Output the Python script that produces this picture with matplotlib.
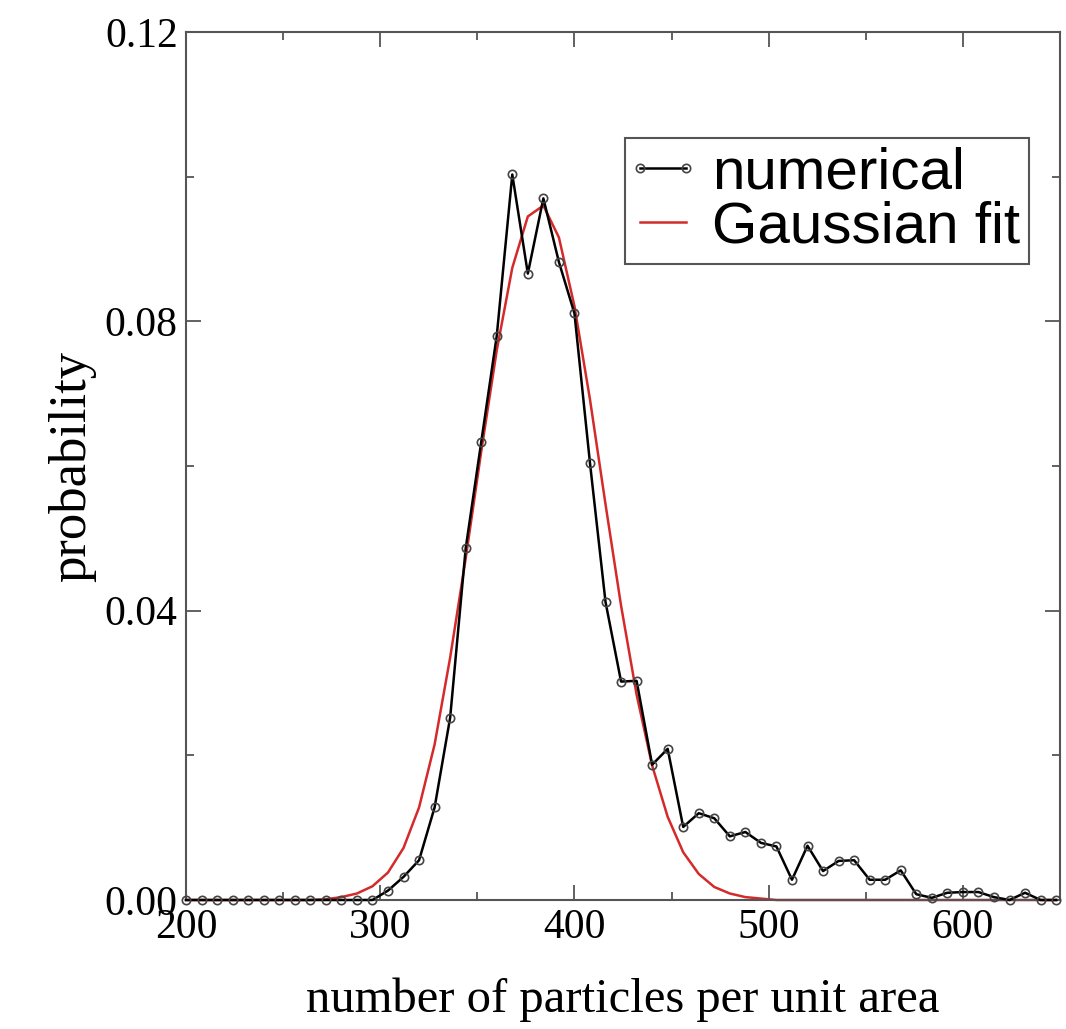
import matplotlib
matplotlib.use("Agg")
import matplotlib.pyplot as plt
from matplotlib.lines import Line2D
from matplotlib.legend_handler import HandlerLine2D
from matplotlib.ticker import MultipleLocator

# bins of the particle count (8 particles wide)
n_particles = [200, 208, 216, 224, 232, 240, 248, 256, 264, 272,
               280, 288, 296, 304, 312, 320, 328, 336, 344, 352,
               360, 368, 376, 384, 392, 400, 408, 416, 424, 432,
               440, 448, 456, 464, 472, 480, 488, 496, 504, 512,
               520, 528, 536, 544, 552, 560, 568, 576, 584, 592,
               600, 608, 616, 624, 632, 640, 648]

prob_numerical = [0.0, 0.0, 0.0, 0.0, 0.0, 0.0, 0.0, 0.0, 0.0, 0.0,
                  0.0, 0.0, 0.0, 0.0013, 0.0032, 0.0055, 0.0128, 0.0252, 0.0486, 0.0633,
                  0.0780, 0.1003, 0.0866, 0.0970, 0.0882, 0.0811, 0.0604, 0.0412, 0.0302, 0.0303,
                  0.0187, 0.0209, 0.0101, 0.0120, 0.0113, 0.0088, 0.0094, 0.0079, 0.0074, 0.0028,
                  0.0075, 0.0040, 0.0054, 0.0055, 0.0028, 0.0028, 0.0041, 0.0008, 0.0003, 0.0010,
                  0.0011, 0.0011, 0.0004, 0.0, 0.0010, 0.0, 0.0]

prob_gauss = [0.0, 0.0, 0.0, 0.0, 0.0, 0.0, 0.0, 0.0, 0.0, 0.0001,
              0.0004, 0.0009, 0.0019, 0.0038, 0.0072, 0.0128, 0.0215, 0.0335, 0.0472, 0.0620,
              0.0760, 0.0874, 0.0945, 0.0960, 0.0916, 0.0821, 0.0692, 0.0547, 0.0407, 0.0284,
              0.0186, 0.0115, 0.0066, 0.0036, 0.0018, 0.0009, 0.0004, 0.0002, 0.0, 0.0,
              0.0, 0.0, 0.0, 0.0, 0.0, 0.0, 0.0, 0.0, 0.0, 0.0,
              0.0, 0.0, 0.0, 0.0, 0.0, 0.0, 0.0]

serif = ["Liberation Serif", "DejaVu Serif"]
sans = ["Liberation Sans", "DejaVu Sans"]
frame = "#555555"

fig = plt.figure(figsize=(10.66, 10.29), dpi=100)
ax = fig.add_axes([186 / 1066, 1 - 900 / 1029, 874 / 1066, 868 / 1029])

ax.plot(n_particles, prob_numerical, color="black", lw=1.8, marker="o",
        ms=6, mfc="none", mec="#444444", mew=1.2, clip_on=False,
        label="numerical", zorder=3)
ax.plot(n_particles, prob_gauss, color="#d42a2a", lw=1.8, clip_on=False,
        label="Gaussian fit", zorder=2)

ax.set_xlim(200, 650)
ax.set_ylim(0, 0.12)
ax.xaxis.set_major_locator(MultipleLocator(100))
ax.xaxis.set_minor_locator(MultipleLocator(50))
ax.yaxis.set_major_locator(MultipleLocator(0.04))
ax.yaxis.set_minor_locator(MultipleLocator(0.02))
ax.yaxis.set_major_formatter(plt.FuncFormatter(lambda v, p: f"{v:.2f}"))

ax.tick_params(which="both", direction="in", top=True, right=True,
               color=frame, width=1.3, labelsize=30, pad=6)
ax.tick_params(which="major", length=11)
ax.tick_params(which="minor", length=6)
for lab in ax.get_xticklabels() + ax.get_yticklabels():
    lab.set_family(serif)
for s in ax.spines.values():
    s.set_color(frame)
    s.set_linewidth(1.5)

ax.set_xlabel("number of particles per unit area", fontsize=35,
              family=serif, labelpad=22)
ax.set_ylabel("probability", fontsize=38, family=serif, labelpad=6)

leg = ax.legend(loc="upper left", bbox_to_anchor=(625 / 1066, 1 - 138 / 1029),
                bbox_transform=fig.transFigure, borderaxespad=0,
                prop={"family": sans, "size": 42}, numpoints=2,
                handler_map={Line2D: HandlerLine2D(marker_pad=0.1)},
                handlelength=1.0, handletextpad=0.35, labelspacing=0.0,
                borderpad=0.15, fancybox=False, framealpha=1)
leg.get_frame().set_edgecolor(frame)
leg.get_frame().set_linewidth(1.5)

fig.savefig("out.png", dpi=100)
